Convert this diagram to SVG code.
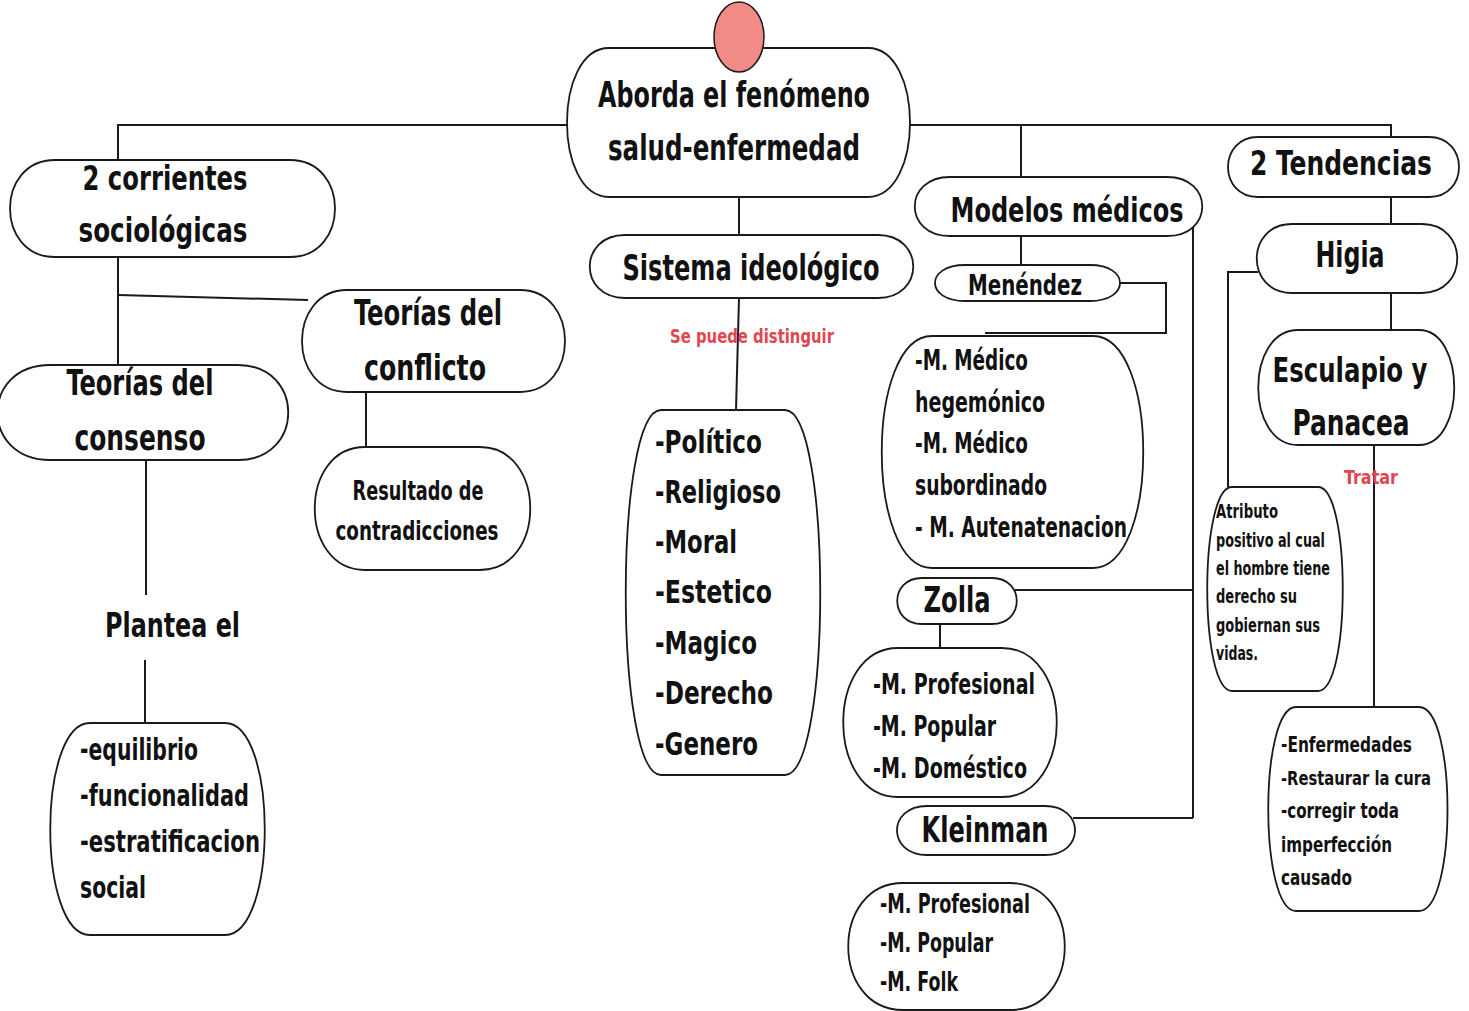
<svg xmlns="http://www.w3.org/2000/svg" width="1469" height="1011" viewBox="0 0 1469 1011">
<style>
.n{fill:#fff;stroke:#1a1a1a;stroke-width:1.8}
.c{fill:none;stroke:#1a1a1a;stroke-width:2}
text{font-family:"Liberation Sans Narrow","DejaVu Sans Condensed","Roboto",sans-serif;font-weight:bold;fill:#111}
.m{text-anchor:middle}
.r{fill:#e0474f;font-weight:bold}
</style>
<rect width="1469" height="1011" fill="#fff"/>
<g id="connectors">
<path class="c" d="M567 125 H118 V160"/>
<path class="c" d="M910 125 H1391 V137"/>
<path class="c" d="M1021 125 V177"/>
<path class="c" d="M739 197 V235"/>
<path class="c" d="M118 257 V365"/>
<path class="c" d="M118 295 L308 300"/>
<path class="c" d="M146 460 V595"/>
<path class="c" d="M145 660 V723"/>
<path class="c" d="M366 392 V447"/>
<path class="c" d="M739 298 L736 410"/>
<path class="c" d="M1021 236 V265"/>
<path class="c" d="M1118 283 H1166 V333 H985"/>
<path class="c" d="M1193 225 V818"/>
<path class="c" d="M1015 590 H1193"/>
<path class="c" d="M1073 818 H1193"/>
<path class="c" d="M940 624 V648"/>
<path class="c" d="M1391 197 V224"/>
<path class="c" d="M1391 293 V330"/>
<path class="c" d="M1374 445 V707"/>
<path class="c" d="M1258 272 H1228 V487"/>
</g>
<g id="main">
<path class="n" d="M609 48 H868 C924 48 924 197 868 197 H609 C553 197 553 48 609 48 Z"/>
<text class="m" x="734" y="107" font-size="35" textLength="272" lengthAdjust="spacingAndGlyphs">Aborda el fenómeno</text>
<text class="m" x="734" y="160" font-size="35" textLength="252" lengthAdjust="spacingAndGlyphs">salud-enfermedad</text>
</g>
<ellipse id="marker-dot" cx="739" cy="37" rx="25" ry="35" fill="#f28b86" stroke="#1a1a1a" stroke-width="1.5"/>
<g id="corrientes">
<path class="n" d="M55 160 H290 C350 160 350 257 290 257 H55 C-5 257 -5 160 55 160 Z"/>
<text class="m" x="165" y="190" font-size="34" textLength="165" lengthAdjust="spacingAndGlyphs">2 corrientes</text>
<text class="m" x="163" y="242" font-size="34" textLength="169" lengthAdjust="spacingAndGlyphs">sociológicas</text>
</g>
<g id="conflicto">
<path class="n" d="M347 290 H520 C580 290 580 392 520 392 H347 C287 392 287 290 347 290 Z"/>
<text class="m" x="428" y="325" font-size="35" textLength="148" lengthAdjust="spacingAndGlyphs">Teorías del</text>
<text class="m" x="425" y="380" font-size="35" textLength="122" lengthAdjust="spacingAndGlyphs">conflicto</text>
</g>
<g id="consenso">
<path class="n" d="M50 365 H238 C305 365 305 460 238 460 H50 C-20 460 -20 365 50 365 Z"/>
<text class="m" x="140" y="395" font-size="35" textLength="147" lengthAdjust="spacingAndGlyphs">Teorías del</text>
<text class="m" x="140" y="450" font-size="35" textLength="131" lengthAdjust="spacingAndGlyphs">consenso</text>
</g>
<g id="plantea">
<text x="105" y="637" font-size="34" textLength="135" lengthAdjust="spacingAndGlyphs">Plantea el</text>
</g>
<g id="equilibrio">
<path class="n" d="M90 723 H225 C278 723 278 935 225 935 H90 C37 935 37 723 90 723 Z"/>
<text x="80" y="760" font-size="30" textLength="118" lengthAdjust="spacingAndGlyphs">-equilibrio</text>
<text x="80" y="806" font-size="30" textLength="169" lengthAdjust="spacingAndGlyphs">-funcionalidad</text>
<text x="80" y="852" font-size="30" textLength="180" lengthAdjust="spacingAndGlyphs">-estratificacion</text>
<text x="80" y="898" font-size="30" textLength="66" lengthAdjust="spacingAndGlyphs">social</text>
</g>
<g id="resultado">
<path class="n" d="M365 447 H480 C547 447 547 570 480 570 H365 C298 570 298 447 365 447 Z"/>
<text class="m" x="418" y="500" font-size="26" textLength="131" lengthAdjust="spacingAndGlyphs">Resultado de</text>
<text class="m" x="417" y="540" font-size="26" textLength="163" lengthAdjust="spacingAndGlyphs">contradicciones</text>
</g>
<g id="sistema">
<path class="n" d="M625 235 H878 C925 235 925 298 878 298 H625 C578 298 578 235 625 235 Z"/>
<text class="m" x="751" y="280" font-size="35" textLength="257" lengthAdjust="spacingAndGlyphs">Sistema ideológico</text>
</g>
<text class="r" x="670" y="343" font-size="19" textLength="164" lengthAdjust="spacingAndGlyphs">Se puede distinguir</text>
<g id="sistema-lista">
<path class="n" d="M661 410 H785 C832 410 832 775 785 775 H661 C614 775 614 410 661 410 Z"/>
<text x="655" y="453" font-size="32" textLength="107" lengthAdjust="spacingAndGlyphs">-Político</text>
<text x="655" y="503" font-size="32" textLength="126" lengthAdjust="spacingAndGlyphs">-Religioso</text>
<text x="655" y="553" font-size="32" textLength="82" lengthAdjust="spacingAndGlyphs">-Moral</text>
<text x="655" y="603" font-size="32" textLength="117" lengthAdjust="spacingAndGlyphs">-Estetico</text>
<text x="655" y="654" font-size="32" textLength="102" lengthAdjust="spacingAndGlyphs">-Magico</text>
<text x="655" y="704" font-size="32" textLength="118" lengthAdjust="spacingAndGlyphs">-Derecho</text>
<text x="655" y="755" font-size="32" textLength="103" lengthAdjust="spacingAndGlyphs">-Genero</text>
</g>
<g id="modelos">
<path class="n" d="M950 177 H1167 C1214 177 1214 236 1167 236 H950 C903 236 903 177 950 177 Z"/>
<text class="m" x="1067" y="222" font-size="34" textLength="233" lengthAdjust="spacingAndGlyphs">Modelos médicos</text>
</g>
<g id="menendez">
<path class="n" d="M965 265 H1090 C1130 265 1130 301 1090 301 H965 C925 301 925 265 965 265 Z"/>
<text class="m" x="1025" y="295" font-size="28" textLength="114" lengthAdjust="spacingAndGlyphs">Menéndez</text>
</g>
<g id="menendez-lista">
<path class="n" d="M932 336 H1093 C1160 336 1160 568 1093 568 H932 C865 568 865 336 932 336 Z"/>
<text x="915" y="370" font-size="28" textLength="113" lengthAdjust="spacingAndGlyphs">-M. Médico</text>
<text x="915" y="412" font-size="28" textLength="130" lengthAdjust="spacingAndGlyphs">hegemónico</text>
<text x="915" y="453" font-size="28" textLength="113" lengthAdjust="spacingAndGlyphs">-M. Médico</text>
<text x="915" y="495" font-size="28" textLength="132" lengthAdjust="spacingAndGlyphs">subordinado</text>
<text x="915" y="537" font-size="28" textLength="212" lengthAdjust="spacingAndGlyphs">- M. Autenatenacion</text>
</g>
<g id="zolla">
<path class="n" d="M922 578 H992 C1025 578 1025 624 992 624 H922 C889 624 889 578 922 578 Z"/>
<text class="m" x="957" y="612" font-size="36" textLength="67" lengthAdjust="spacingAndGlyphs">Zolla</text>
</g>
<g id="zolla-lista">
<path class="n" d="M898 648 H1002 C1075 648 1075 797 1002 797 H898 C825 797 825 648 898 648 Z"/>
<text x="873" y="694" font-size="28" textLength="162" lengthAdjust="spacingAndGlyphs">-M. Profesional</text>
<text x="873" y="736" font-size="28" textLength="123" lengthAdjust="spacingAndGlyphs">-M. Popular</text>
<text x="873" y="778" font-size="28" textLength="154" lengthAdjust="spacingAndGlyphs">-M. Doméstico</text>
</g>
<g id="kleinman">
<path class="n" d="M927 806 H1045 C1085 806 1085 855 1045 855 H927 C887 855 887 806 927 806 Z"/>
<text class="m" x="985" y="842" font-size="36" textLength="127" lengthAdjust="spacingAndGlyphs">Kleinman</text>
</g>
<g id="kleinman-lista">
<path class="n" d="M903 883 H1010 C1083 883 1083 1010 1010 1010 H903 C830 1010 830 883 903 883 Z"/>
<text x="880" y="913" font-size="27" textLength="150" lengthAdjust="spacingAndGlyphs">-M. Profesional</text>
<text x="880" y="952" font-size="27" textLength="113" lengthAdjust="spacingAndGlyphs">-M. Popular</text>
<text x="880" y="991" font-size="27" textLength="78" lengthAdjust="spacingAndGlyphs">-M. Folk</text>
</g>
<g id="tendencias">
<path class="n" d="M1258 137 H1429 C1469 137 1469 197 1429 197 H1258 C1218 197 1218 137 1258 137 Z"/>
<text class="m" x="1341" y="175" font-size="33" textLength="182" lengthAdjust="spacingAndGlyphs">2 Tendencias</text>
</g>
<g id="higia">
<path class="n" d="M1292 224 H1422 C1469 224 1469 293 1422 293 H1292 C1245 293 1245 224 1292 224 Z"/>
<text class="m" x="1350" y="267" font-size="36" textLength="69" lengthAdjust="spacingAndGlyphs">Higia</text>
</g>
<g id="esculapio">
<path class="n" d="M1298 330 H1419 C1466 330 1466 445 1419 445 H1298 C1245 445 1245 330 1298 330 Z"/>
<text class="m" x="1350" y="382" font-size="33" textLength="155" lengthAdjust="spacingAndGlyphs">Esculapio y</text>
<text class="m" x="1351" y="435" font-size="35" textLength="117" lengthAdjust="spacingAndGlyphs">Panacea</text>
</g>
<text class="r" x="1344" y="484" font-size="20" textLength="54" lengthAdjust="spacingAndGlyphs">Tratar</text>
<g id="atributo">
<path class="n" d="M1232 487 H1318 C1351 487 1351 691 1318 691 H1232 C1199 691 1199 487 1232 487 Z"/>
<text x="1216" y="518" font-size="19" textLength="62" lengthAdjust="spacingAndGlyphs">Atributo</text>
<text x="1216" y="547" font-size="19" textLength="109" lengthAdjust="spacingAndGlyphs">positivo al cual</text>
<text x="1216" y="575" font-size="19" textLength="114" lengthAdjust="spacingAndGlyphs">el hombre tiene</text>
<text x="1216" y="603" font-size="19" textLength="81" lengthAdjust="spacingAndGlyphs">derecho su</text>
<text x="1216" y="632" font-size="19" textLength="104" lengthAdjust="spacingAndGlyphs">gobiernan sus</text>
<text x="1216" y="660" font-size="19" textLength="42" lengthAdjust="spacingAndGlyphs">vidas.</text>
</g>
<g id="enfermedades">
<path class="n" d="M1296 707 H1419 C1457 707 1457 911 1419 911 H1296 C1259 911 1259 707 1296 707 Z"/>
<text x="1281" y="752" font-size="22" textLength="131" lengthAdjust="spacingAndGlyphs">-Enfermedades</text>
<text x="1281" y="785" font-size="19" textLength="150" lengthAdjust="spacingAndGlyphs">-Restaurar la cura</text>
<text x="1281" y="818" font-size="22" textLength="118" lengthAdjust="spacingAndGlyphs">-corregir toda</text>
<text x="1281" y="852" font-size="22" textLength="111" lengthAdjust="spacingAndGlyphs">imperfección</text>
<text x="1281" y="885" font-size="22" textLength="71" lengthAdjust="spacingAndGlyphs">causado</text>
</g>
</svg>
